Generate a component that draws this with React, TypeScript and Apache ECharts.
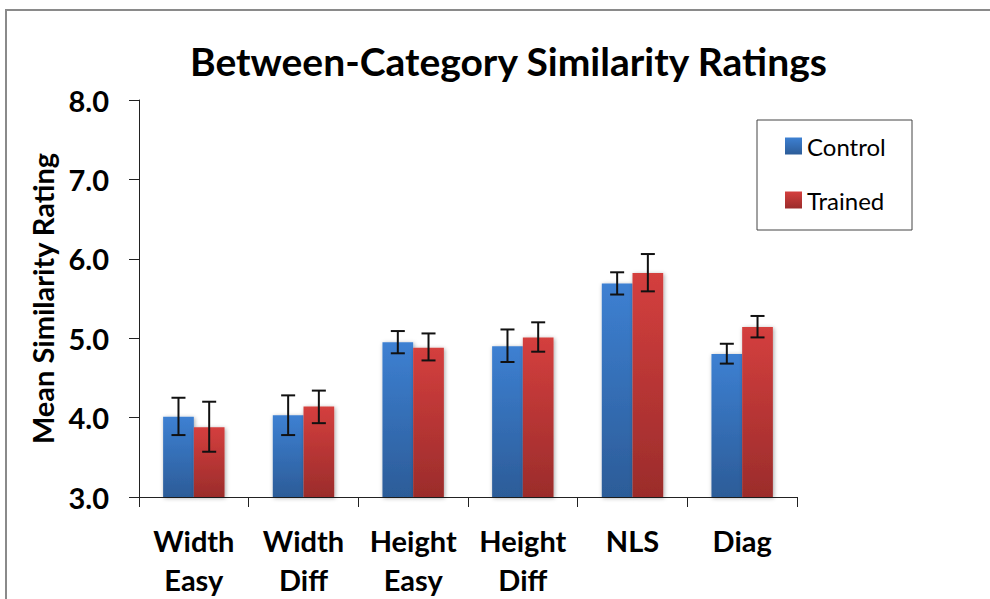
import React, { useEffect, useRef } from "react";
import * as echarts from "echarts";

const categories = ["Width\nEasy", "Width\nDiff", "Height\nEasy", "Height\nDiff", "NLS", "Diag"];
const controlMeans = [4.01, 4.03, 4.95, 4.9, 5.69, 4.8];
const controlLow = [3.78, 3.78, 4.81, 4.7, 5.55, 4.68];
const controlHigh = [4.25, 4.28, 5.09, 5.11, 5.83, 4.93];
const trainedMeans = [3.88, 4.14, 4.88, 5.01, 5.82, 5.14];
const trainedLow = [3.57, 3.93, 4.72, 4.83, 5.59, 5.01];
const trainedHigh = [4.2, 4.34, 5.06, 5.2, 6.06, 5.28];
const yTicks = { min: 3, max: 8, interval: 1 };

const FONT = "Lato";
const CAT_GAP = 0.44;

function errorSeries(name: string, low: number[], high: number[], side: number) {
  return {
    type: "custom",
    name: name + " error",
    z: 10,
    silent: true,
    renderItem: (params: any, api: any) => {
      const idx = api.value(0);
      const lo = api.coord([idx, api.value(1)]);
      const hi = api.coord([idx, api.value(2)]);
      const band = api.size([1, 0])[0];
      const bw = (band * (1 - CAT_GAP)) / 2;
      const x = lo[0] + (side * bw) / 2;
      const cap = 7;
      const style = { stroke: "#111", lineWidth: 2 };
      return {
        type: "group",
        children: [
          { type: "line", shape: { x1: x, y1: hi[1], x2: x, y2: lo[1] }, style },
          { type: "line", shape: { x1: x - cap, y1: hi[1], x2: x + cap, y2: hi[1] }, style },
          { type: "line", shape: { x1: x - cap, y1: lo[1], x2: x + cap, y2: lo[1] }, style },
        ],
      };
    },
    encode: { x: 0, y: [1, 2] },
    data: low.map((l, i) => [i, l, high[i]]),
  };
}

export default function App() {
  const ref = useRef<HTMLDivElement>(null);
  useEffect(() => {
    if (!ref.current) return;
    const chart = echarts.init(ref.current, null, { renderer: "svg" });
    const blue = new echarts.graphic.LinearGradient(0, 0, 0, 1, [
      { offset: 0, color: "#3d80d2" },
      { offset: 1, color: "#2c5c98" },
    ]);
    const red = new echarts.graphic.LinearGradient(0, 0, 0, 1, [
      { offset: 0, color: "#d43f3e" },
      { offset: 1, color: "#9b2c2b" },
    ]);
    chart.setOption({
      animation: false,
      backgroundColor: "#fff",
      title: {
        text: "Between-Category Similarity Ratings",
        left: 185,
        top: 36,
        textStyle: { fontFamily: FONT, fontWeight: "bold", fontSize: 39, color: "#000" },
      },
      legend: {
        orient: "vertical",
        left: 780,
        top: 129,
        itemWidth: 17,
        itemHeight: 17,
        itemGap: 30,
        icon: "rect",
        data: ["Control", "Trained"],
        textStyle: { fontFamily: FONT, fontSize: 24, color: "#000", lineHeight: 24 },
      },
      graphic: [
        {
          type: "rect",
          shape: { x: 6, y: 10, width: 1100, height: 800 },
          style: { fill: "none", stroke: "#8a8a8a", lineWidth: 2 },
          silent: true,
        },
        {
          type: "rect",
          shape: { x: 757, y: 120, width: 155, height: 110 },
          style: { fill: "none", stroke: "#444", lineWidth: 1 },
          silent: true,
        },
      ],
      grid: { left: 139, top: 100, right: 193, bottom: 102 },
      xAxis: {
        type: "category",
        data: categories,
        axisLine: { lineStyle: { color: "#222", width: 1 } },
        axisTick: { show: true, length: 10, alignWithLabel: false, lineStyle: { color: "#222" } },
        axisLabel: {
          fontFamily: FONT,
          fontWeight: "bold",
          fontSize: 29,
          color: "#000",
          lineHeight: 39,
          margin: 24,
          interval: 0,
        },
      },
      yAxis: {
        type: "value",
        min: yTicks.min,
        max: yTicks.max,
        interval: yTicks.interval,
        name: "Mean Similarity Rating",
        nameLocation: "middle",
        nameGap: 82,
        nameTextStyle: { fontFamily: FONT, fontWeight: "bold", fontSize: 29, color: "#000" },
        axisLine: { show: true, lineStyle: { color: "#222", width: 1 } },
        axisTick: { show: true, length: 10, lineStyle: { color: "#222" } },
        splitLine: { show: false },
        axisLabel: {
          fontFamily: FONT,
          fontWeight: "bold",
          fontSize: 29,
          color: "#000",
          margin: 30,
          formatter: (v: number) => v.toFixed(1),
        },
      },
      series: [
        {
          type: "bar",
          name: "Control",
          data: controlMeans,
          barGap: "0%",
          barCategoryGap: CAT_GAP * 100 + "%",
          itemStyle: {
            color: blue,
            shadowBlur: 4,
            shadowColor: "rgba(0,0,0,0.35)",
            shadowOffsetX: 1,
            shadowOffsetY: 1,
          },
        },
        {
          type: "bar",
          name: "Trained",
          data: trainedMeans,
          barGap: "0%",
          barCategoryGap: CAT_GAP * 100 + "%",
          itemStyle: {
            color: red,
            shadowBlur: 4,
            shadowColor: "rgba(0,0,0,0.35)",
            shadowOffsetX: 1,
            shadowOffsetY: 1,
          },
        },
        errorSeries("Control", controlLow, controlHigh, -1),
        errorSeries("Trained", trainedLow, trainedHigh, 1),
      ],
    });
    return () => chart.dispose();
  }, []);
  return <div ref={ref} style={{ width: 990, height: 599, position: "absolute", left: 0, top: 0 }} />;
}
